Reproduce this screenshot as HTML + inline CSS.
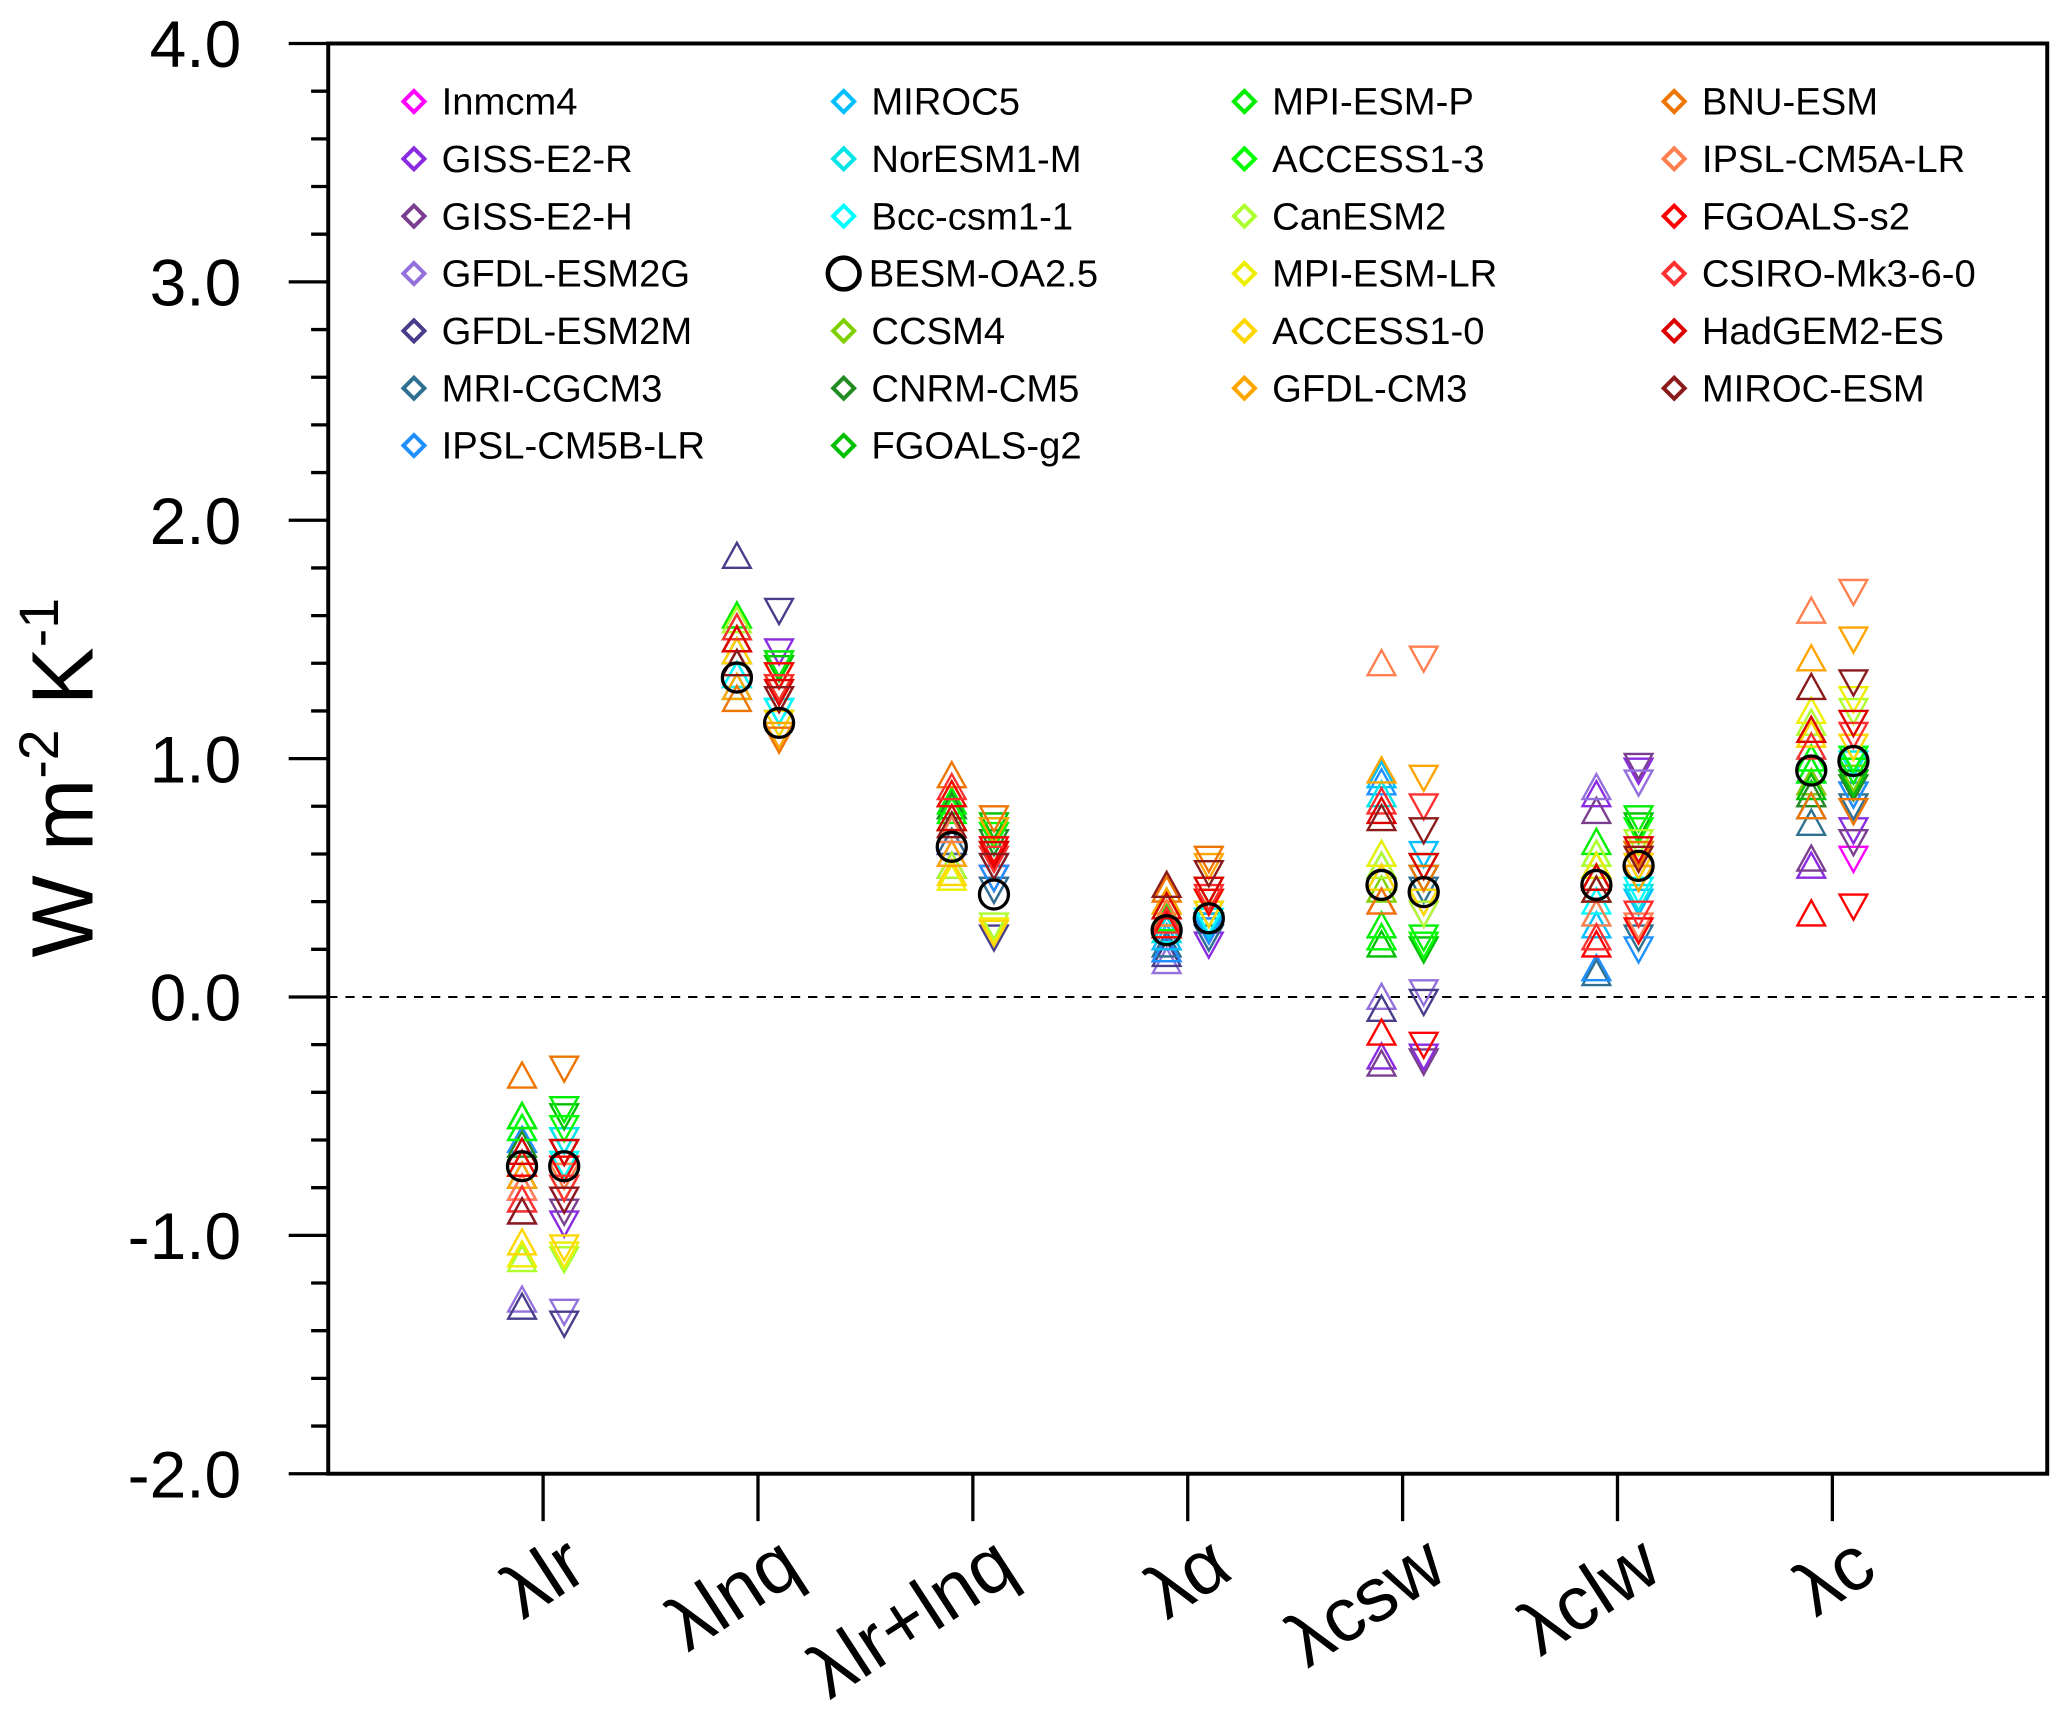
<!DOCTYPE html>
<html><head><meta charset="utf-8"><style>
html,body{margin:0;padding:0;background:#fff;}
svg{display:block;}
text{font-family:"Liberation Sans",sans-serif;}
</style></head><body>
<svg id="chart" width="2067" height="1711" viewBox="0 0 1568 1298" preserveAspectRatio="none" xmlns="http://www.w3.org/2000/svg"></svg>
<script>
const categories = ["λlr","λlnq","λlr+lnq","λα","λcsw","λclw","λc"];
const models = ["Inmcm4","GISS-E2-R","GISS-E2-H","GFDL-ESM2G","GFDL-ESM2M","MRI-CGCM3","IPSL-CM5B-LR","MIROC5","NorESM1-M","Bcc-csm1-1","CCSM4","CNRM-CM5","FGOALS-g2","MPI-ESM-P","ACCESS1-3","CanESM2","MPI-ESM-LR","ACCESS1-0","GFDL-CM3","BNU-ESM","IPSL-CM5A-LR","FGOALS-s2","CSIRO-Mk3-6-0","HadGEM2-ES","MIROC-ESM"];
const modelColors = ["#ff00ff","#8a2be2","#7b3f8f","#9370db","#483d8b","#2f6f8f","#1e90ff","#00bfff","#00e5e5","#00ffff","#7fd000","#228b22","#00c000","#00ee00","#00ff00","#adff2f","#eeee00","#ffd700","#ffa500","#ee7600","#ff7f50","#ff0000","#ff3030","#dd0000","#8b1a1a"];
const upValues = [
 [-0.8,-0.9,-0.85,-1.27,-1.3,-0.75,-0.6,-0.55,-0.65,-0.7,-0.7,-0.62,-0.5,-0.5,-0.55,-1.1,-1.08,-1.03,-0.75,-0.33,-0.8,-0.7,-0.85,-0.65,-0.9],
 [1.45,1.5,1.4,1.55,1.85,1.35,1.4,1.4,1.3,1.35,1.6,1.45,1.55,1.6,1.5,1.58,1.5,1.45,1.3,1.25,1.4,1.5,1.55,1.5,1.4],
 [0.65,0.6,0.55,0.6,0.55,0.65,0.7,0.75,0.8,0.7,0.75,0.8,0.85,0.82,0.78,0.55,0.5,0.52,0.6,0.93,0.7,0.85,0.88,0.75,0.72],
 [0.3,0.2,0.25,0.15,0.18,0.22,0.2,0.25,0.28,0.3,0.35,0.3,0.35,0.38,0.33,0.4,0.35,0.3,0.4,0.45,0.35,0.3,0.32,0.38,0.47],
 [0.4,-0.25,-0.28,0.0,-0.05,0.5,0.9,0.93,0.85,0.6,0.45,0.55,0.22,0.3,0.25,0.55,0.6,0.5,0.95,0.4,1.4,-0.15,0.82,0.78,0.75],
 [0.5,0.85,0.78,0.88,0.5,0.1,0.12,0.3,0.35,0.4,0.55,0.45,0.55,0.65,0.6,0.6,0.55,0.5,0.45,0.5,0.35,0.22,0.25,0.5,0.45],
 [0.9,0.55,0.58,0.85,0.8,0.73,0.8,0.95,1.0,1.05,0.9,0.85,0.88,0.95,1.0,1.15,1.2,1.1,1.42,0.8,1.62,0.35,1.05,1.12,1.3]
];
const downValues = [
 [-0.85,-0.95,-0.9,-1.32,-1.37,-0.8,-0.65,-0.6,-0.6,-0.7,-0.75,-0.65,-0.5,-0.47,-0.55,-1.1,-1.08,-1.05,-0.8,-0.3,-0.75,-0.72,-0.8,-0.65,-0.85],
 [1.3,1.45,1.35,1.4,1.62,1.25,1.2,1.2,1.15,1.2,1.35,1.3,1.38,1.4,1.3,1.35,1.3,1.15,1.1,1.08,1.25,1.35,1.3,1.28,1.25],
 [0.5,0.55,0.5,0.45,0.25,0.45,0.5,0.6,0.65,0.55,0.6,0.65,0.72,0.7,0.68,0.3,0.28,0.27,0.7,0.75,0.6,0.62,0.58,0.6,0.55],
 [0.3,0.22,0.28,0.25,0.3,0.25,0.28,0.3,0.35,0.32,0.4,0.35,0.45,0.45,0.4,0.4,0.35,0.35,0.55,0.58,0.45,0.4,0.42,0.45,0.52],
 [0.35,-0.25,-0.27,0.02,-0.02,0.45,0.55,0.6,0.55,0.5,0.4,0.5,0.2,0.25,0.22,0.35,0.55,0.4,0.92,0.5,1.42,-0.2,0.8,0.55,0.7],
 [0.55,0.95,0.97,0.9,0.6,0.25,0.2,0.4,0.42,0.45,0.6,0.5,0.72,0.75,0.7,0.65,0.6,0.55,0.5,0.6,0.3,0.28,0.35,0.62,0.58],
 [0.58,0.7,0.65,0.9,0.85,0.8,0.85,0.95,0.98,1.0,0.92,0.88,0.9,0.95,1.0,1.2,1.25,1.05,1.5,0.78,1.7,0.38,1.1,1.15,1.32]
];
const besmUp = [-0.71,1.34,0.63,0.28,0.47,0.47,0.95];
const besmDown = [-0.71,1.15,0.43,0.33,0.44,0.55,0.99];
const yTicks = [4.0,3.0,2.0,1.0,0.0,-1.0,-2.0];
const yTickLabels = ["4.0","3.0","2.0","1.0","0.0","-1.0","-2.0"];
const legendOrder = [
 ["Inmcm4","GISS-E2-R","GISS-E2-H","GFDL-ESM2G","GFDL-ESM2M","MRI-CGCM3","IPSL-CM5B-LR"],
 ["MIROC5","NorESM1-M","Bcc-csm1-1","BESM-OA2.5","CCSM4","CNRM-CM5","FGOALS-g2"],
 ["MPI-ESM-P","ACCESS1-3","CanESM2","MPI-ESM-LR","ACCESS1-0","GFDL-CM3"],
 ["BNU-ESM","IPSL-CM5A-LR","FGOALS-s2","CSIRO-Mk3-6-0","HadGEM2-ES","MIROC-ESM"]
];

const NS="http://www.w3.org/2000/svg";
const svg=document.getElementById('chart');
const L=249,R=1553,T=33,B=1118;
const yMin=-2,yMax=4;
function yScale(v){return B-(v-yMin)/(yMax-yMin)*(B-T);}
function xScale(i){return 412+i*163;}
function mk(tag,attrs,parent){const e=document.createElementNS(NS,tag);for(const k in attrs)e.setAttribute(k,attrs[k]);(parent||svg).appendChild(e);return e;}

const frame=mk('rect',{x:L,y:T,width:R-L,height:B-T,fill:'none',stroke:'#000','stroke-width':3});


const zl=mk('line',{x1:L,x2:R,y1:yScale(0),y2:yScale(0),stroke:'#000','stroke-width':1.5,'stroke-dasharray':'7,6'});


for(let v=-2;v<=4.0001;v+=0.2){
  const major=Math.abs(v-Math.round(v))<1e-6;
  const t=mk('line',{x1:major?219:236,x2:L,y1:yScale(v),y2:yScale(v),stroke:'#000','stroke-width':2.5});
  
  
}
yTicks.forEach((v,i)=>{
  const t=mk('text',{x:183,y:yScale(v)+18,'text-anchor':'end','font-size':50});
  t.textContent=yTickLabels[i];
  
  
});
const yt=mk('text',{x:0,y:0,transform:'translate(70,590) rotate(-90)','text-anchor':'middle','font-size':66});
yt.innerHTML='W m<tspan dy="-26" font-size="42">-2</tspan><tspan dy="26"> K</tspan><tspan dy="-26" font-size="42">-1</tspan>';


categories.forEach((c,i)=>{
  const x=xScale(i);
  const t=mk('line',{x1:x,x2:x,y1:B,y2:B+36,stroke:'#000','stroke-width':2.5});
  
  
  const lb=mk('text',{x:0,y:0,transform:`translate(${x+36},${B+78}) rotate(-33)`,'text-anchor':'end','font-size':58});
  lb.textContent=c;
  
  
});
function tri(x,y,up,color){
  const s=10.5,h=9;
  const pts=up?`${x},${y-h-1} ${x-s},${y+h} ${x+s},${y+h}`:`${x},${y+h+1} ${x-s},${y-h} ${x+s},${y-h}`;
  return mk('polygon',{points:pts,fill:'none',stroke:color,'stroke-width':1.8});
}
categories.forEach((c,i)=>{
  const x=xScale(i);
  models.forEach((m,j)=>{
    const a=tri(x-16,yScale(upValues[i][j]),true,modelColors[j]);
    
    
    const b=tri(x+16,yScale(downValues[i][j]),false,modelColors[j]);
    
    
  });
  const c1=mk('circle',{cx:x-16,cy:yScale(besmUp[i]),r:11,fill:'none',stroke:'#000','stroke-width':2.5});
  
  
  const c2=mk('circle',{cx:x+16,cy:yScale(besmDown[i]),r:11,fill:'none',stroke:'#000','stroke-width':2.5});
  
  
});
const colX=[314,640,944,1270];
legendOrder.forEach((col,ci)=>{
  col.forEach((name,ri)=>{
    const x=colX[ci],y=77+ri*43.5;
    if(name==='BESM-OA2.5'){
      const m=mk('circle',{cx:x,cy:y,r:12,fill:'none',stroke:'#000','stroke-width':3.5});
      
      
    }else{
      const col2=modelColors[models.indexOf(name)];
      const m=mk('polygon',{points:`${x},${y-8} ${x+8},${y} ${x},${y+8} ${x-8},${y}`,fill:'none',stroke:col2,'stroke-width':3});
      
      
    }
    const t=mk('text',{x:x+(name==='BESM-OA2.5'?19:21),y:y+10,'font-size':29});
    t.textContent=name;
    
    
  });
});
</script>
</body></html>
